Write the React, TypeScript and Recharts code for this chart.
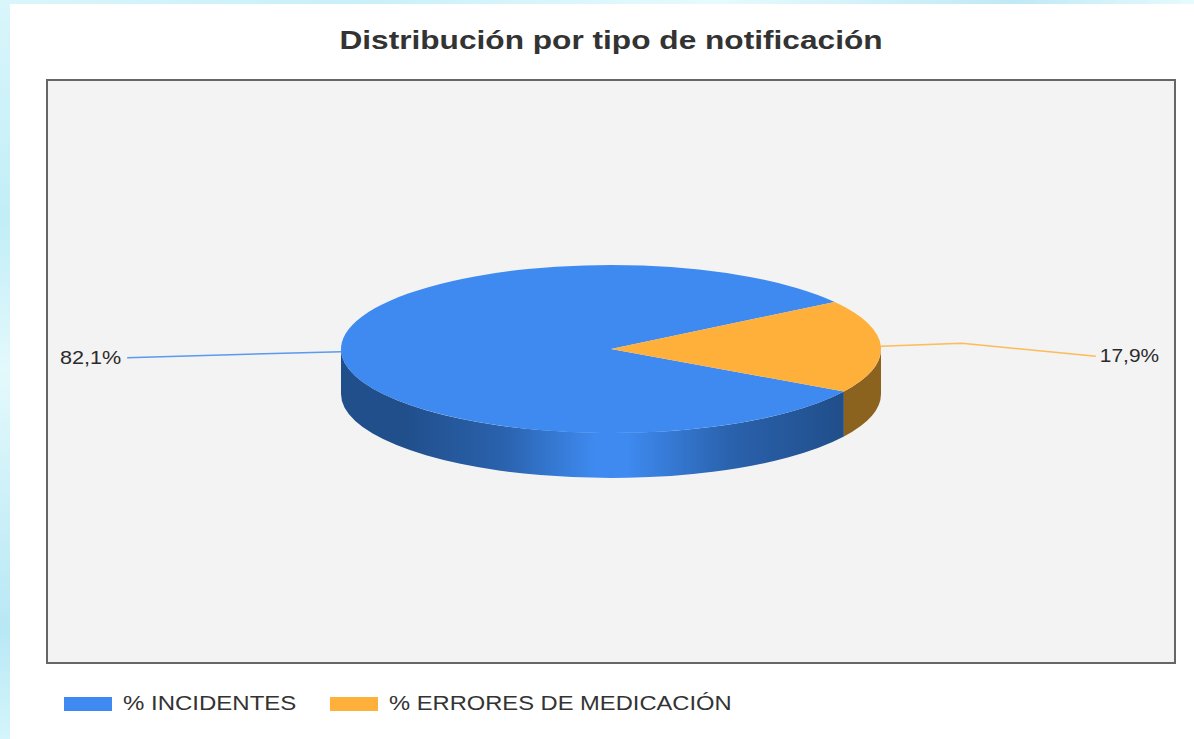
import React from "react"
import { PieChart, Pie, Legend } from "recharts"

const categories = ["% INCIDENTES", "% ERRORES DE MEDICACIÓN"]
const values = [82.1, 17.9]
const colors = ["#3e8af0", "#ffb03b"]
const sideColors = [
  ["#214f8c", "#2a62ad", "#3e8af0"],
  ["#8c621f", "#a0711f", "#c98c2a"],
]
const chartTitle = "Distribución por tipo de notificación"

// where each leader line bends, relative to the edge of its slice
const leaderOffsets = [
  [[-214, 6]],
  [[81, -3], [215, 10]],
]

const FONT = "'Liberation Sans', Arial, sans-serif"
const WIDTH = 1194
const HEIGHT = 739
const TILT = 84 / 270 // squash of the pie ellipse
const DEPTH = 45
const STRETCH = 1.2 // the source picture is stretched sideways

const chartData = categories.map((name, i) => ({ name, value: values[i], fill: colors[i] }))

const rad = (deg: number) => (deg * Math.PI) / 180

// Pie sector as a tilted disc: side wall first, then the top face
const TiltedSector = (props: any) => {
  const { cx, cy, outerRadius, startAngle, endAngle, fill } = props
  const rx = outerRadius
  const ry = outerRadius * TILT
  // angles keep running past -360, bring them back so the rim test below works
  const wrap = Math.min(startAngle, endAngle) < -360 ? 360 : 0
  const hi = Math.max(startAngle, endAngle) + wrap
  const lo = Math.min(startAngle, endAngle) + wrap
  const pt = (a: number) => [cx + rx * Math.cos(rad(a)), cy - ry * Math.sin(rad(a))]
  const [x0, y0] = pt(hi)
  const [x1, y1] = pt(lo)
  const large = hi - lo > 180 ? 1 : 0
  const top = `M${cx},${cy} L${x0},${y0} A${rx},${ry} 0 ${large} 1 ${x1},${y1} Z`

  // only the part of the rim facing the viewer shows
  const sweepHi = Math.min(hi, 0)
  const sweepLo = Math.max(lo, -180)
  const [wx0, wy0] = pt(sweepHi)
  const [wx1, wy1] = pt(sweepLo)
  const wall = `M${wx0},${wy0} A${rx},${ry} 0 0 1 ${wx1},${wy1} L${wx1},${wy1 + DEPTH} A${rx},${ry} 0 0 0 ${wx0},${wy0 + DEPTH} Z`

  const sliceIndex = colors.indexOf(fill)
  const shades = sideColors[sliceIndex] || sideColors[0]
  const id = `wall-${sliceIndex}`
  return (
    <g>
      <defs>
        <linearGradient id={id} gradientUnits="userSpaceOnUse" x1={cx - rx} x2={cx + rx} y1={0} y2={0}>
          <stop offset="0" stopColor={shades[0]} />
          <stop offset="0.12" stopColor={shades[0]} />
          <stop offset="0.3" stopColor={shades[1]} />
          <stop offset="0.47" stopColor={shades[2]} />
          <stop offset="0.53" stopColor={shades[2]} />
          <stop offset="0.72" stopColor={shades[1]} />
          <stop offset="0.92" stopColor={shades[0]} />
          <stop offset="1" stopColor={shades[0]} />
        </linearGradient>
      </defs>
      <path d={wall} fill={`url(#${id})`} />
      <path d={top} fill={fill} />
    </g>
  )
}

const edgePoint = (props: any) => {
  const { cx, cy, outerRadius, midAngle } = props
  return [
    cx + outerRadius * Math.cos(rad(midAngle)),
    cy - outerRadius * TILT * Math.sin(rad(midAngle)),
  ]
}

const leaderPoints = (props: any, sliceIndex: number) => {
  const [sx, sy] = edgePoint(props)
  return [[sx, sy], ...leaderOffsets[sliceIndex].map(([dx, dy]) => [sx + dx, sy + dy])]
}

const sliceIndexOf = (props: any) => categories.indexOf(props.name ?? props.payload?.name)

const renderLeader = (props: any) => {
  const idx = sliceIndexOf(props)
  const pts = leaderPoints(props, idx)
  return (
    <polyline
      points={pts.map((p) => p.join(",")).join(" ")}
      fill="none"
      stroke={colors[idx]}
      strokeOpacity={0.85}
      strokeWidth={1.5}
    />
  )
}

const renderLabel = (props: any) => {
  const idx = sliceIndexOf(props)
  const pts = leaderPoints(props, idx)
  const [ex, ey] = pts[pts.length - 1]
  const leftSide = ex < props.cx
  return (
    <text
      transform={`translate(${ex + (leftSide ? -6 : 4)},${ey + 6}) scale(${leftSide ? STRETCH : 1.16},1)`}
      textAnchor={leftSide ? "end" : "start"}
      fontFamily={FONT}
      fontSize={18}
      fill="#2b2b2b"
    >
      {values[idx].toFixed(1).replace(".", ",")}%
    </text>
  )
}

const LegendContent = ({ payload }: any) => (
  <div style={{ display: "flex", alignItems: "center", fontFamily: FONT, fontSize: 20, color: "#333333" }}>
    {(payload || []).map((entry: any, i: number) => (
      <div key={i} style={{ display: "flex", alignItems: "center", width: i === 0 ? 266 : 420 }}>
        <span style={{ width: 48, height: 14, background: entry.color, marginRight: 11, flex: "none" }} />
        <span style={{ transform: `scaleX(${i === 0 ? STRETCH : 1.186})`, transformOrigin: "left center", whiteSpace: "nowrap" }}>
          {entry.value}
        </span>
      </div>
    ))}
  </div>
)

export default function App() {
  return (
    <div
      style={{
        position: "absolute",
        left: 0,
        top: 0,
        width: WIDTH,
        height: HEIGHT,
        overflow: "hidden",
        background: "#ffffff",
      }}
    >
      {/* light blue page showing around the screenshot */}
      <div style={{ position: "absolute", left: 0, top: 0, width: WIDTH, height: 4, background: "linear-gradient(90deg, #d9f6fb, #c8f0f8 30%, #e6fbfd 60%, #bfe9f5 85%, #e6fbfd)" }} />
      <div style={{ position: "absolute", left: 0, top: 0, width: 10, height: HEIGHT, background: "linear-gradient(180deg, #d9f6fb, #c2eef8 30%, #e3f9fc 50%, #b8e8f5 85%, #d4f5fb)" }} />

      <div
        style={{
          position: "absolute",
          left: 0,
          width: 1222,
          top: 25,
          textAlign: "center",
          fontFamily: FONT,
          fontWeight: 700,
          fontSize: 26,
          lineHeight: "30px",
          color: "#333333",
          transform: "scaleX(1.217)",
          transformOrigin: "611px 0",
          whiteSpace: "nowrap",
        }}
      >
        {chartTitle}
      </div>

      <div
        style={{
          position: "absolute",
          left: 46,
          top: 79,
          width: 1130,
          height: 585,
          boxSizing: "border-box",
          background: "#f3f3f3",
          border: "2px solid #666666",
        }}
      />

      <div style={{ position: "absolute", left: 0, top: 0 }}>
        <PieChart width={WIDTH} height={HEIGHT} margin={{ top: 0, right: 0, bottom: 0, left: 0 }}>
          <Pie
            data={chartData}
            dataKey="value"
            nameKey="name"
            cx={611}
            cy={349}
            outerRadius={270}
            startAngle={-30.4}
            endAngle={-390.4}
            stroke="none"
            shape={TiltedSector}
            label={renderLabel}
            labelLine={renderLeader}
            isAnimationActive={false}
          />
          <Legend
            content={<LegendContent />}
            itemSorter={null}
            wrapperStyle={{ position: "absolute", left: 64, top: 692, width: 760, height: 26 }}
          />
        </PieChart>
      </div>
    </div>
  )
}
